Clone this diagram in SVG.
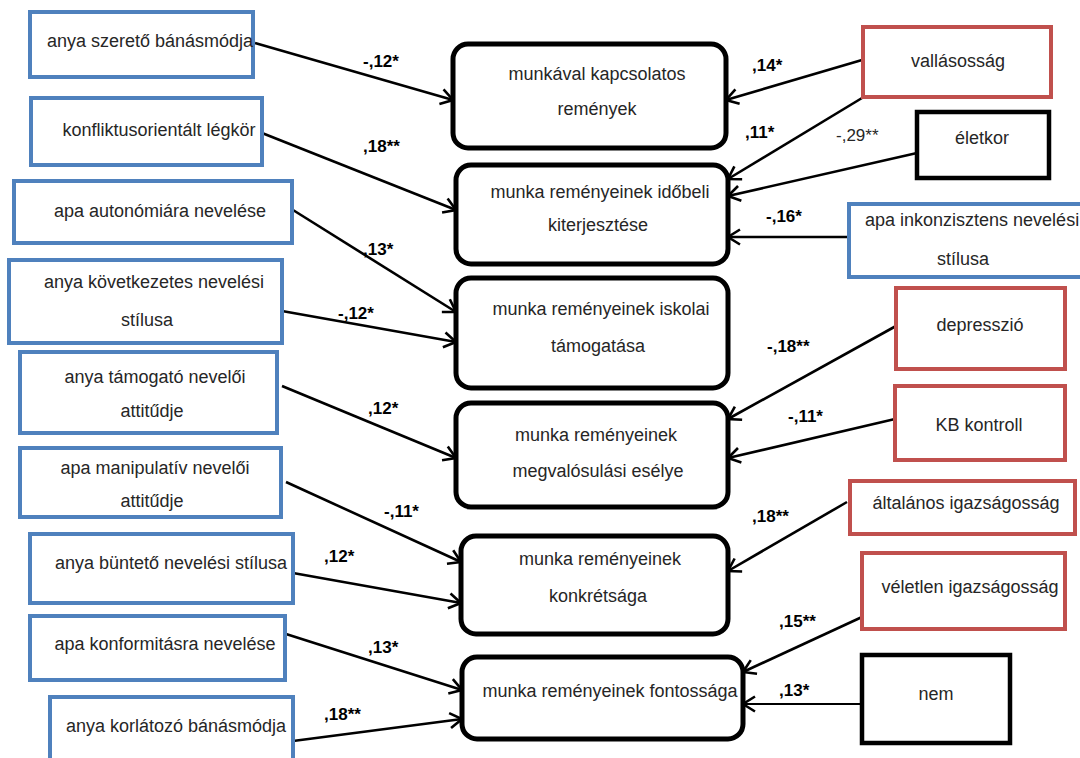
<svg xmlns="http://www.w3.org/2000/svg" width="1080" height="758" viewBox="0 0 1080 758">
<style>
.bl{fill:#fff;stroke:#4f81bd;stroke-width:4}
.rd{fill:#fff;stroke:#c0504d;stroke-width:4}
.bk{fill:#fff;stroke:#000;stroke-width:4.5}
.ct{fill:#fff;stroke:#000;stroke-width:5}
.t{font-family:"Liberation Sans",Arial,sans-serif;font-size:18px;fill:#262626;text-anchor:middle}
.ts{font-family:"Liberation Sans",Arial,sans-serif;font-size:18px;fill:#262626}
.l{font-family:"Liberation Sans",Arial,sans-serif;font-size:17px;font-weight:bold;fill:#000}
.lr{font-family:"Liberation Sans",Arial,sans-serif;font-size:17px;fill:#262626}
.c{stroke:#000;stroke-width:2.6;fill:none;marker-end:url(#ah)}
</style>
<defs>
<marker id="ah" markerWidth="20" markerHeight="20" refX="15" refY="10" orient="auto" markerUnits="userSpaceOnUse">
<path d="M3,2.5 L15,10 L3,17.5" fill="none" stroke="#000" stroke-width="2.6"/>
</marker>
</defs>
<rect width="1080" height="758" fill="#fff"/>

<g id="connectors">
<line class="c" x1="255" y1="43" x2="453" y2="100"/>
<line class="c" x1="262" y1="133" x2="456" y2="210"/>
<line class="c" x1="293" y1="210" x2="456" y2="312"/>
<line class="c" x1="282" y1="311" x2="456" y2="342"/>
<line class="c" x1="282" y1="386" x2="456" y2="458"/>
<line class="c" x1="286" y1="482" x2="461" y2="562"/>
<line class="c" x1="293" y1="573" x2="461" y2="603"/>
<line class="c" x1="286" y1="634" x2="462" y2="690"/>
<line class="c" x1="293" y1="741" x2="462" y2="719"/>
<line class="c" x1="862" y1="60" x2="726" y2="100"/>
<line class="c" x1="862" y1="98" x2="728" y2="179"/>
<line class="c" x1="917" y1="153" x2="728" y2="196"/>
<line class="c" x1="849" y1="237" x2="728" y2="237"/>
<line class="c" x1="896" y1="326" x2="728" y2="419"/>
<line class="c" x1="895" y1="419" x2="728" y2="458"/>
<line class="c" x1="847" y1="502" x2="728" y2="571"/>
<line class="c" x1="862" y1="617" x2="743" y2="672"/>
<line class="c" x1="862" y1="704" x2="743" y2="704" style="stroke-width:2"/>
<text class="l" x="363" y="67">-,12*</text>
<text class="l" x="363" y="152">,18**</text>
<text class="l" x="363" y="255">,13*</text>
<text class="l" x="338" y="319">-,12*</text>
<text class="l" x="368" y="414">,12*</text>
<text class="l" x="384" y="517">-,11*</text>
<text class="l" x="324" y="562">,12*</text>
<text class="l" x="368" y="653">,13*</text>
<text class="l" x="324" y="720">,18**</text>
<text class="l" x="752" y="71">,14*</text>
<text class="l" x="745" y="138">,11*</text>
<text class="lr" x="836" y="141">-,29**</text>
<text class="l" x="766" y="222">-,16*</text>
<text class="l" x="767" y="352">-,18**</text>
<text class="l" x="788" y="422">-,11*</text>
<text class="l" x="752" y="522">,18**</text>
<text class="l" x="779" y="627">,15**</text>
<text class="l" x="779" y="696">,13*</text>
</g>

<g id="anya-szereto"><rect class="bl" x="30" y="12" width="223" height="65"/><text class="t" x="150" y="47">anya szerető bánásmódja</text></g>
<g id="konfliktus"><rect class="bl" x="31" y="98" width="231" height="67"/><text class="t" x="159" y="136">konfliktusorientált légkör</text></g>
<g id="apa-autonomia"><rect class="bl" x="14" y="181" width="278" height="62"/><text class="t" x="160" y="217">apa autonómiára nevelése</text></g>
<g id="anya-kovetkezetes"><rect class="bl" x="9" y="260" width="273" height="83"/><text class="t" x="154" y="288">anya következetes nevelési</text><text class="t" x="147" y="326">stílusa</text></g>
<g id="anya-tamogato"><rect class="bl" x="20" y="352" width="257" height="81"/><text class="t" x="155" y="383">anya támogató nevelői</text><text class="t" x="152" y="417">attitűdje</text></g>
<g id="apa-manipulativ"><rect class="bl" x="20" y="448" width="261" height="69"/><text class="t" x="155" y="474">apa manipulatív nevelői</text><text class="t" x="152" y="507">attitűdje</text></g>
<g id="anya-bunteto"><rect class="bl" x="30" y="534" width="263" height="69"/><text class="t" x="171" y="569">anya büntető nevelési stílusa</text></g>
<g id="apa-konformitas"><rect class="bl" x="30" y="616" width="255" height="64"/><text class="t" x="165" y="650">apa konformitásra nevelése</text></g>
<g id="anya-korlatozo"><rect class="bl" x="50" y="697" width="243" height="70"/><text class="t" x="176" y="732">anya korlátozó bánásmódja</text></g>

<g id="munkaval"><rect class="ct" x="453" y="44" width="273" height="104" rx="15"/><text class="t" x="597" y="80">munkával kapcsolatos</text><text class="t" x="597" y="115">remények</text></g>
<g id="idobeli"><rect class="ct" x="456" y="165" width="272" height="99" rx="15"/><text class="t" x="600" y="198">munka reményeinek időbeli</text><text class="t" x="598" y="231">kiterjesztése</text></g>
<g id="iskolai"><rect class="ct" x="456" y="278" width="272" height="110" rx="15"/><text class="t" x="601" y="315">munka reményeinek iskolai</text><text class="t" x="598" y="352">támogatása</text></g>
<g id="megvalosulasi"><rect class="ct" x="456" y="403" width="272" height="104" rx="15"/><text class="t" x="596" y="441">munka reményeinek</text><text class="t" x="598" y="477">megvalósulási esélye</text></g>
<g id="konkretsaga"><rect class="ct" x="461" y="536" width="267" height="98" rx="15"/><text class="t" x="600" y="565">munka reményeinek</text><text class="t" x="598" y="602">konkrétsága</text></g>
<g id="fontossaga"><rect class="ct" x="462" y="657" width="281" height="82" rx="15"/><text class="t" x="610" y="697">munka reményeinek fontossága</text></g>

<g id="vallasossag"><rect class="rd" x="863" y="27" width="188" height="70"/><text class="t" x="958" y="67">vallásosság</text></g>
<g id="eletkor"><rect class="bk" x="917" y="112" width="132" height="66"/><text class="t" x="982" y="144">életkor</text></g>
<g id="apa-inkonzisztens"><rect class="bl" x="849" y="204" width="235" height="73"/><text class="ts" x="865" y="226">apa inkonzisztens nevelési</text><text class="t" x="963" y="265">stílusa</text></g>
<g id="depresszio"><rect class="rd" x="896" y="288" width="169" height="81"/><text class="t" x="980" y="331">depresszió</text></g>
<g id="kb-kontroll"><rect class="rd" x="895" y="386" width="170" height="74"/><text class="t" x="979" y="431">KB kontroll</text></g>
<g id="altalanos"><rect class="rd" x="850" y="481" width="225" height="53"/><text class="t" x="966" y="509">általános igazságosság</text></g>
<g id="veletlen"><rect class="rd" x="862" y="553" width="203" height="76"/><text class="t" x="970" y="593">véletlen igazságosság</text></g>
<g id="nem"><rect class="bk" x="862" y="655" width="148" height="88"/><text class="t" x="936" y="700">nem</text></g>
</svg>
